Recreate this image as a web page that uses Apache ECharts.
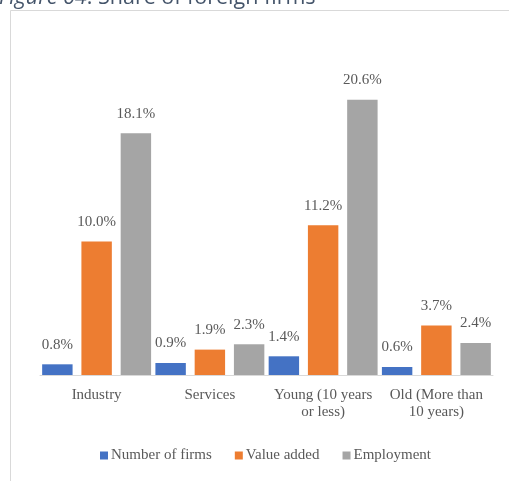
<!DOCTYPE html>
<html>
<head>
<meta charset="utf-8">
<style>
  html, body { margin: 0; padding: 0; background: #ffffff; }
  #chart { width: 509px; height: 481px; }
</style>
<script src="https://cdn.jsdelivr.net/npm/echarts@6/dist/echarts.min.js"></script>
</head>
<body>
<div id="chart"></div>
<script>
// Share of foreign firms, by sector and by firm age (percent)
const categories = ['Industry', 'Services', 'Young (10 years\nor less)', 'Old (More than\n10 years)'];
const numberOfFirms = [0.8, 0.9, 1.4, 0.6];
const valueAdded = [10.0, 1.9, 11.2, 3.7];
const employment = [18.1, 2.3, 20.6, 2.4];
const seriesNames = ['Number of firms', 'Value added', 'Employment'];

const serif = 'Liberation Serif';
const textGrey = '#595959';

const chart = echarts.init(document.getElementById('chart'), null, { renderer: 'canvas' });

function barSeries(name, data, color) {
  return {
    name: name,
    type: 'bar',
    data: data,
    barGap: '29%',
    barCategoryGap: '3.8%',
    itemStyle: { color: color },
    label: {
      show: true,
      position: 'top',
      distance: 12,
      fontFamily: serif,
      fontSize: 15,
      color: textGrey,
      formatter: p => p.value.toFixed(1) + '%'
    },
    emphasis: { disabled: true }
  };
}

chart.setOption({
  animation: false,
  backgroundColor: '#ffffff',
  graphic: [
    {
      type: 'rect',
      shape: { x: 10.5, y: 10.5, width: 700, height: 700 },
      style: { fill: 'none', stroke: '#d9d9d9', lineWidth: 1 },
      silent: true
    },
    {
      type: 'text',
      x: -1,
      y: 11,
      style: {
        text: '{i|Figure 64}{n|: Share of foreign firms}',
        verticalAlign: 'bottom',
        align: 'left',
        rich: {
          i: { fontFamily: 'Open Sans', fontStyle: 'italic', fontSize: 21.5, lineHeight: 26, fill: '#44546A' },
          n: { fontFamily: 'Open Sans', fontSize: 21.5, lineHeight: 26, fill: '#44546A' }
        }
      },
      silent: true
    }
  ],
  legend: {
    data: seriesNames,
    bottom: 13,
    left: 95,
    itemWidth: 8,
    itemHeight: 8,
    itemGap: 23,
    icon: 'rect',
    textStyle: { fontFamily: serif, fontSize: 15, color: textGrey, padding: [0, 0, 0, -2] },
    selectedMode: false
  },
  grid: { left: 40, right: 16, top: 41, bottom: 106, containLabel: false },
  xAxis: {
    type: 'category',
    data: categories,
    axisLine: { lineStyle: { color: '#d9d9d9', width: 1 } },
    axisTick: { show: false },
    axisLabel: {
      fontFamily: serif,
      fontSize: 15,
      color: textGrey,
      margin: 12,
      lineHeight: 17,
      interval: 0
    }
  },
  yAxis: {
    type: 'value',
    min: 0,
    max: 25,
    show: false,
    splitLine: { show: false }
  },
  series: [
    barSeries(seriesNames[0], numberOfFirms, '#4472C4'),
    barSeries(seriesNames[1], valueAdded, '#ED7D31'),
    barSeries(seriesNames[2], employment, '#A5A5A5')
  ]
});
</script>
</body>
</html>
